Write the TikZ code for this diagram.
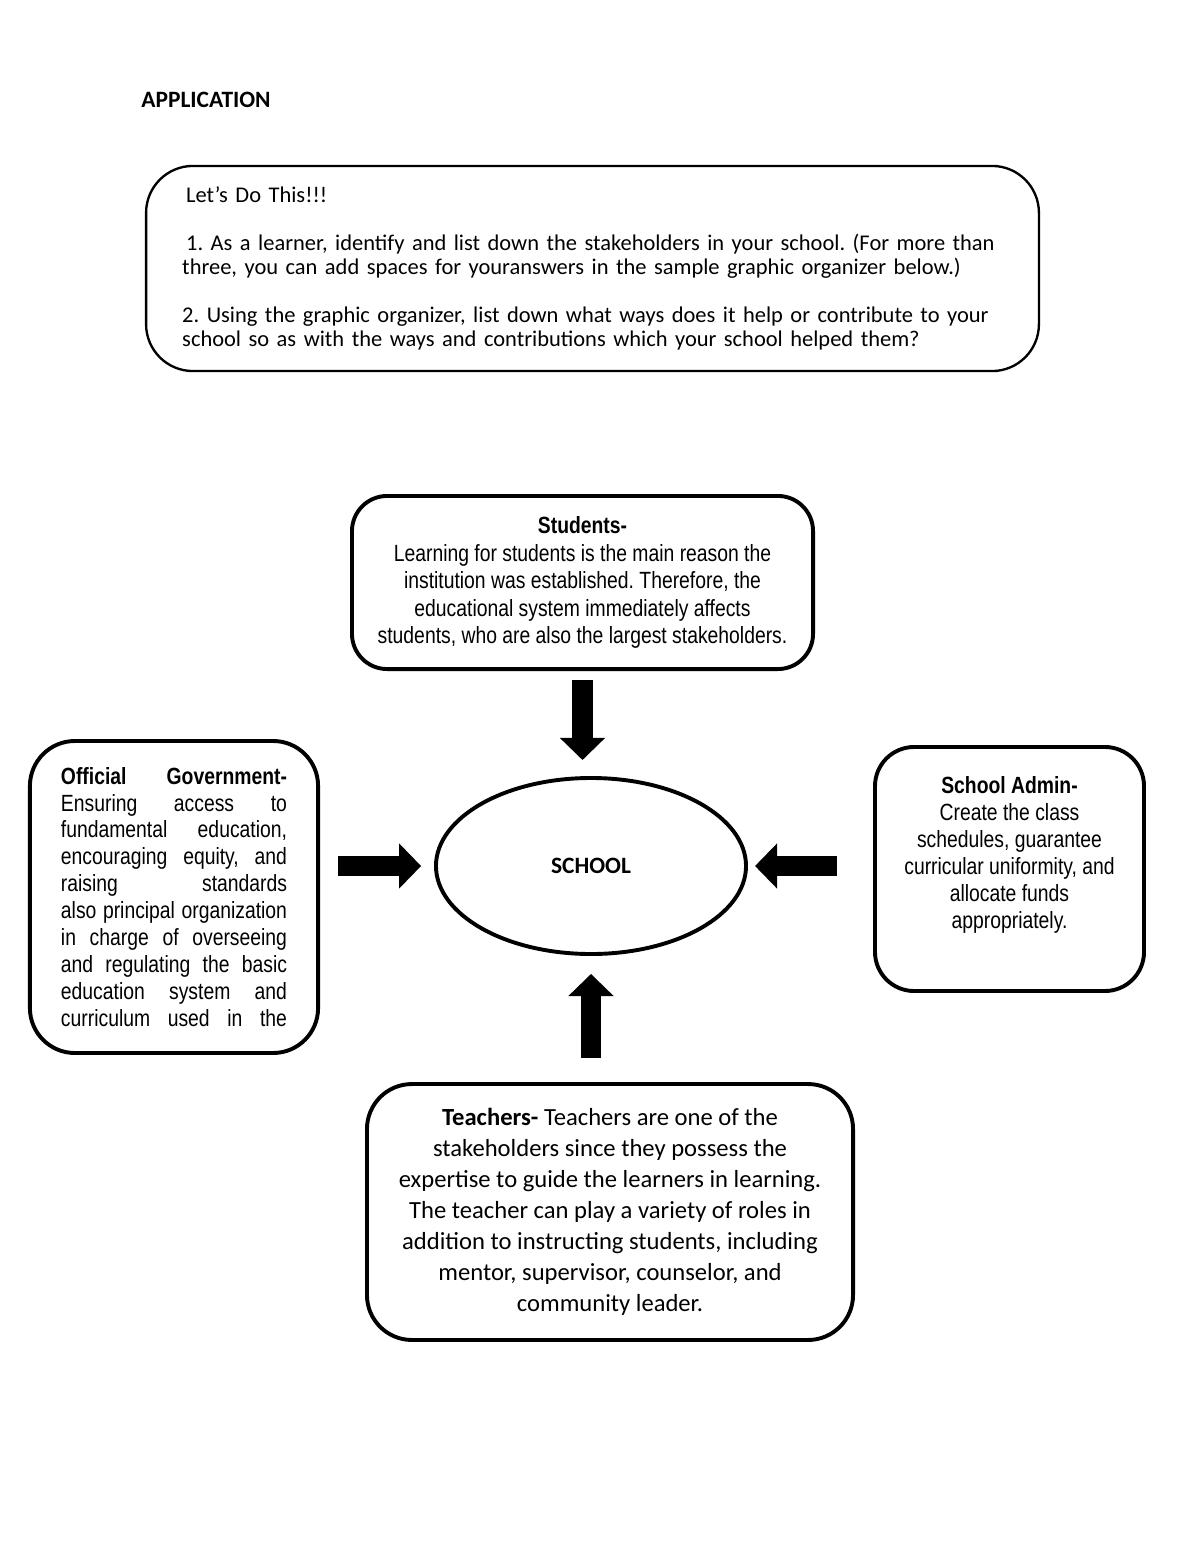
\documentclass[tikz,border=0pt]{standalone}
\usepackage{fontspec}
\setmainfont{Carlito}
\newfontfamily\arialfont{Liberation Sans}[FakeStretch=0.825]
\usetikzlibrary{arrows.meta,shapes.geometric,positioning}

\begin{document}
\frenchspacing
\begin{tikzpicture}[x=0.01799cm, y=-0.01799cm,
    stakebox/.style={draw, line width=2pt, rounded corners=20pt, inner sep=0pt, align=center},
    bigarrow/.style={line width=10.7pt, -{Triangle[length=11.3pt, width=22.5pt]}}]
    \useasboundingbox (0,0) rectangle (1200,1553);

    % Heading
    \node[anchor=base west, inner sep=0pt, font=\fontsize{12}{14}\selectfont\bfseries] (title) at (141,108) {APPLICATION};

    % Task box
    \node[draw, line width=1.2pt, rounded corners=24pt, minimum width=457pt, minimum height=105pt,
          text width=420pt, align=left, font=\fontsize{11.5}{12.3}\selectfont] (task) at (592.5,268.5)
      {\hspace*{2pt}Let's Do This!!!\\[12.3pt]
       \hspace*{2pt}1. As a learner, identify and list down the stakeholders in your school. (For more than\\
       three, you can add spaces for youranswers in the sample graphic organizer below.)\\[12.3pt]
       2. Using the graphic organizer, list down what ways does it help or contribute to your\\
       school so as with the ways and contributions which your school helped them?};

    % Centre
    \node[draw, ellipse, line width=2pt, minimum width=158.7pt, minimum height=90.1pt,
          font=\fontsize{12}{14}\selectfont\bfseries] (school) at (591,866) {SCHOOL};

    % Stakeholders
    \node[stakebox, rounded corners=18pt, minimum width=236pt, minimum height=88.6pt,
          font=\arialfont\fontsize{12}{14.1}\selectfont] (students) at (582.5,582.5)
      {\textbf{Students-}\\
       Learning for students is the main reason the\\
       institution was established. Therefore, the\\
       educational system immediately affects\\
       students, who are also the largest stakeholders.};

    \node[stakebox, rounded corners=23pt, minimum width=147.5pt, minimum height=159.7pt,
          text width=115.7pt, align=justify, font=\arialfont\fontsize{12}{13.8}\selectfont] (gov) at (174,897)
      {\textbf{Official Government-}\linebreak
       Ensuring access to\linebreak
       fundamental education,\linebreak
       encouraging equity, and\linebreak
       raising standards\linebreak
       also principal organization\linebreak
       in charge of overseeing\linebreak
       and regulating the basic\linebreak
       education system and\linebreak
       curriculum used in the\parfillskip=0pt\par};

    \node[stakebox, minimum width=137.7pt, minimum height=124.9pt,
          font=\arialfont\fontsize{12}{13.8}\selectfont] (admin) at (1009.5,869)
      {\textbf{School Admin-}\\
       Create the class\\
       schedules, guarantee\\
       curricular uniformity, and\\
       allocate funds\\
       appropriately.\\[3pt]};

    \node[stakebox, rounded corners=23pt, minimum width=248.8pt, minimum height=131pt,
          font=\fontsize{12.6}{15.9}\selectfont] (teachers) at (610,1212)
      {\textbf{Teachers-} Teachers are one of the\\
       stakeholders since they possess the\\
       expertise to guide the learners in learning.\\
       The teacher can play a variety of roles in\\
       addition to instructing students, including\\
       mentor, supervisor, counselor, and\\
       community leader.};

    % Arrows into the school
    \draw[bigarrow, shorten <=4.6pt, shorten >=8.2pt] (students.south) -- (students.south |- school.north);
    \draw[bigarrow, shorten <=9.2pt, shorten >=6.6pt] (gov.east |- school.west) -- (school.west);
    \draw[bigarrow, shorten <=18.4pt, shorten >=3.6pt] (admin.west |- school.east) -- (school.east);
    \draw[bigarrow, shorten <=12.3pt, shorten >=9.2pt] (teachers.north -| school.south) -- (school.south);
\end{tikzpicture}
\end{document}
